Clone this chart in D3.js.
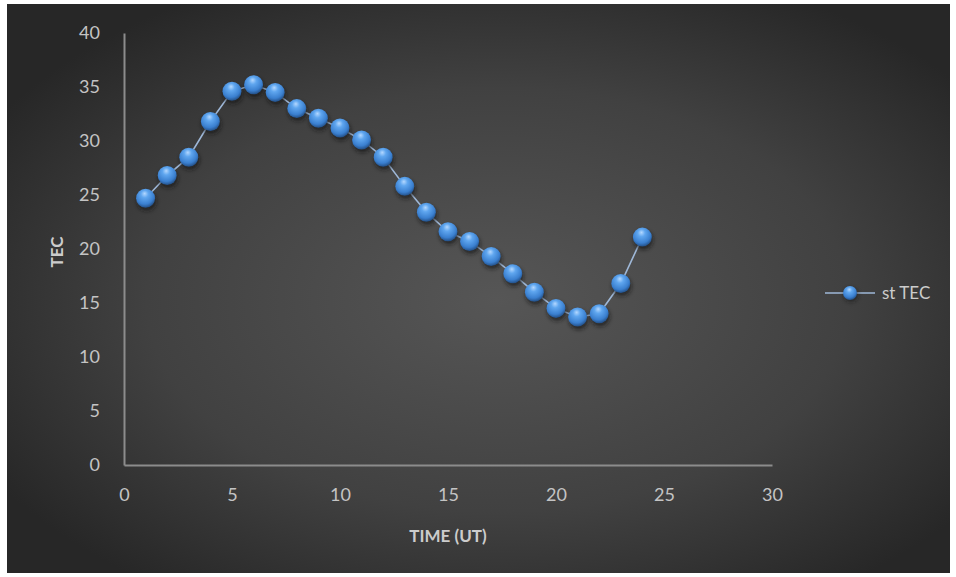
<!DOCTYPE html>
<html>
<head>
<meta charset="utf-8">
<script src="https://cdn.jsdelivr.net/npm/d3@7"></script>
<style>
  html, body { margin: 0; padding: 0; background: #ffffff; }
  svg { display: block; }
  text { font-family: Lato, "Open Sans", sans-serif; }
</style>
</head>
<body>
<svg id="chart" width="956" height="577"></svg>
<script>
// Hourly TEC values
const hours = [1, 2, 3, 4, 5, 6, 7, 8, 9, 10, 11, 12, 13, 14, 15, 16, 17, 18, 19, 20, 21, 22, 23, 24];
const tec = [24.7, 26.8, 28.5, 31.8, 34.6, 35.2, 34.5, 33.0, 32.1, 31.2, 30.1, 28.5,
             25.8, 23.4, 21.6, 20.7, 19.3, 17.7, 16.0, 14.5, 13.7, 14.0, 16.8, 21.1];
const xTicks = [0, 5, 10, 15, 20, 25, 30];
const yTicks = [0, 5, 10, 15, 20, 25, 30, 35, 40];
const seriesName = "st TEC";
const xTitle = "TIME (UT)";
const yTitle = "TEC";

const svg = d3.select("#chart");
const defs = svg.append("defs");

// Background radial gradient
const bg = defs.append("radialGradient").attr("id", "bg")
  .attr("cx", "52%").attr("cy", "52%").attr("r", "62%");
bg.append("stop").attr("offset", "0%").attr("stop-color", "#565656");
bg.append("stop").attr("offset", "60%").attr("stop-color", "#414141");
bg.append("stop").attr("offset", "100%").attr("stop-color", "#272727");

// Sphere marker gradient
const ball = defs.append("radialGradient").attr("id", "ball")
  .attr("cx", "45%").attr("cy", "35%").attr("r", "65%").attr("fx", "45%").attr("fy", "25%");
ball.append("stop").attr("offset", "0%").attr("stop-color", "#b4d8ff");
ball.append("stop").attr("offset", "30%").attr("stop-color", "#5fa6ef");
ball.append("stop").attr("offset", "75%").attr("stop-color", "#3a7fcf");
ball.append("stop").attr("offset", "100%").attr("stop-color", "#234f86");

const shadow = defs.append("filter").attr("id", "shadow")
  .attr("x", "-60%").attr("y", "-60%").attr("width", "220%").attr("height", "220%");
shadow.append("feGaussianBlur").attr("stdDeviation", 2.2);

svg.append("rect").attr("x", 7).attr("y", 4).attr("width", 943).attr("height", 569)
  .attr("fill", "url(#bg)");

const x = d3.scaleLinear().domain([0, 30]).range([124, 772]);
const y = d3.scaleLinear().domain([0, 40]).range([465, 33]);

// Axes (lines and labels, no tick marks)
const xAxis = svg.append("g").attr("transform", `translate(0,${y(0)})`)
  .call(d3.axisBottom(x).tickValues(xTicks).tickSize(0).tickPadding(23));
const yAxis = svg.append("g").attr("transform", `translate(${x(0)},0)`)
  .call(d3.axisLeft(y).tickValues(yTicks).tickSize(0).tickPadding(24));
[xAxis, yAxis].forEach(g => {
  g.select(".domain").attr("stroke", "#8c8c8c").attr("stroke-width", 2);
  g.selectAll("text").attr("fill", "#c4c4c4").attr("font-size", 18)
    .attr("font-family", "Lato, 'Open Sans', sans-serif");
});

svg.append("text").attr("x", 448).attr("y", 542).attr("text-anchor", "middle")
  .attr("fill", "#cccccc").attr("font-size", 17).attr("font-weight", "bold").text(xTitle);
svg.append("text").attr("transform", "translate(63,252) rotate(-90)")
  .attr("text-anchor", "middle").attr("fill", "#cccccc").attr("font-size", 17)
  .attr("font-weight", "bold").text(yTitle);

const data = hours.map((h, i) => ({ h, v: tec[i] }));

// Connecting line
svg.append("path").datum(data)
  .attr("fill", "none").attr("stroke", "#9fb8d8").attr("stroke-width", 1.6)
  .attr("d", d3.line().x(d => x(d.h)).y(d => y(d.v)));

// Marker shadows then spheres
const r = 9.5;
svg.append("g").selectAll("circle").data(data).join("circle")
  .attr("cx", d => x(d.h) + 1).attr("cy", d => y(d.v) + 3).attr("r", r)
  .attr("fill", "#151515").attr("opacity", 0.7).attr("filter", "url(#shadow)");
svg.append("g").selectAll("circle").data(data).join("circle")
  .attr("cx", d => x(d.h)).attr("cy", d => y(d.v)).attr("r", r)
  .attr("fill", "url(#ball)");

// Legend
const lg = svg.append("g");
lg.append("line").attr("x1", 825).attr("x2", 875).attr("y1", 293).attr("y2", 293)
  .attr("stroke", "#9fb8d8").attr("stroke-width", 1.6);
lg.append("circle").attr("cx", 851).attr("cy", 295).attr("r", 7)
  .attr("fill", "#151515").attr("opacity", 0.6).attr("filter", "url(#shadow)");
lg.append("circle").attr("cx", 850).attr("cy", 293).attr("r", 7).attr("fill", "url(#ball)");
lg.append("text").attr("x", 882).attr("y", 299).attr("fill", "#cccccc")
  .attr("font-size", 17).text(seriesName);
</script>
</body>
</html>
